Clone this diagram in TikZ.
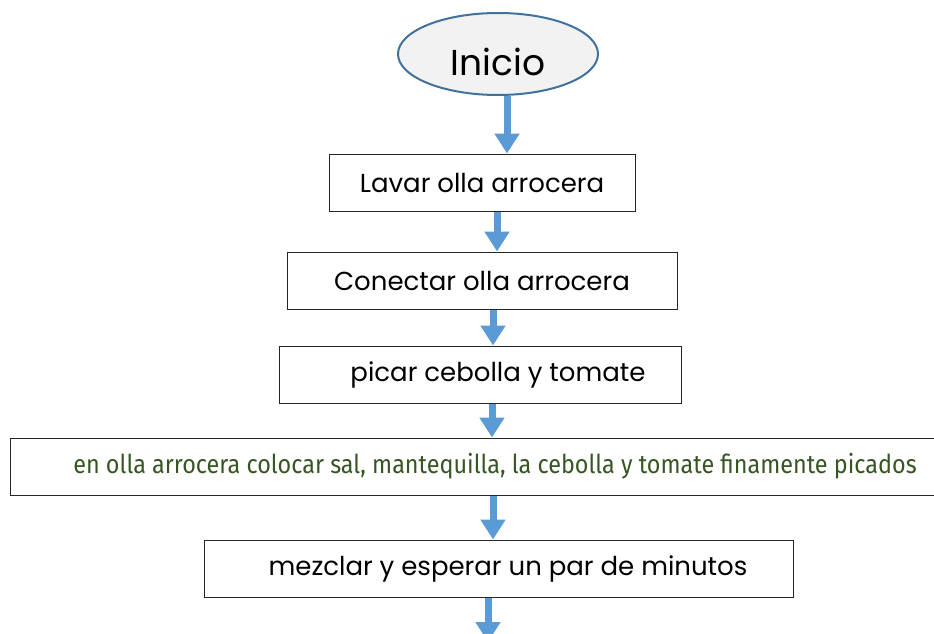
\documentclass[tikz,border=0pt]{standalone}
\usepackage{fontspec}
\setmainfont{Poppins}
\newfontfamily\angosta[FakeStretch=0.9]{Fira Sans}
\usetikzlibrary{shapes.geometric,arrows.meta}
\definecolor{flechaazul}{HTML}{5B9BD5}
\definecolor{bordeazul}{HTML}{41719C}
\definecolor{verdetexto}{HTML}{375623}
\begin{document}
\begin{tikzpicture}[x=1pt,y=-1pt,
	paso/.style={draw=black!85,line width=1pt,fill=white,minimum height=57pt,inner sep=0pt,font=\fontsize{26}{30}\selectfont},
	flecha/.style={flechaazul,line width=7pt,-{Triangle[width=24pt,length=20pt]}}]
		\useasboundingbox (0,0) rectangle (934,634);
		\node[ellipse,draw=bordeazul,line width=2pt,fill=black!5,minimum width=200pt,minimum height=82pt,inner sep=0pt,font=\fontsize{36}{40}\selectfont] (inicio) at (498,54) {\raisebox{-8pt}[\height][\depth]{Inicio}};
		\node[paso,minimum width=306pt] (lavar) at (482,182.5) {Lavar olla arrocera};
		\node[paso,minimum width=390pt] (conectar) at (482,280.5) {Conectar olla arrocera};
		\node[paso,minimum width=402pt] (picar) at (480,374.5) {\hspace*{36pt}picar cebolla y tomate};
		\node[paso,minimum width=926pt,font=\angosta\fontsize{26}{30}\selectfont,text=verdetexto] (colocar) at (473,466.5) {\hspace*{44pt}en olla arrocera colocar sal, mantequilla, la cebolla y tomate finamente picados};
		\node[paso,minimum width=589pt] (mezclar) at (498.5,568.5) {\hspace*{19pt}mezclar y esperar un par de minutos};
		\coordinate (sigue) at (488,642);
		\draw[flecha] ([xshift=9pt]inicio.south) -- ([xshift=9pt]inicio.south |- lavar.north);
		\draw[flecha] ([xshift=15pt]lavar.south) -- ([xshift=15pt]lavar.south |- conectar.north);
		\draw[flecha] ([xshift=11pt]conectar.south) -- ([xshift=11pt]conectar.south |- picar.north);
		\draw[flecha] ([xshift=12pt]picar.south) -- ([xshift=12pt]picar.south |- colocar.north);
		\draw[flecha] ([xshift=20pt]colocar.south) -- ([xshift=20pt]colocar.south |- mezclar.north);
		\draw[flecha] (mezclar.south -| sigue) -- (sigue);
		\end{tikzpicture}
\end{document}
